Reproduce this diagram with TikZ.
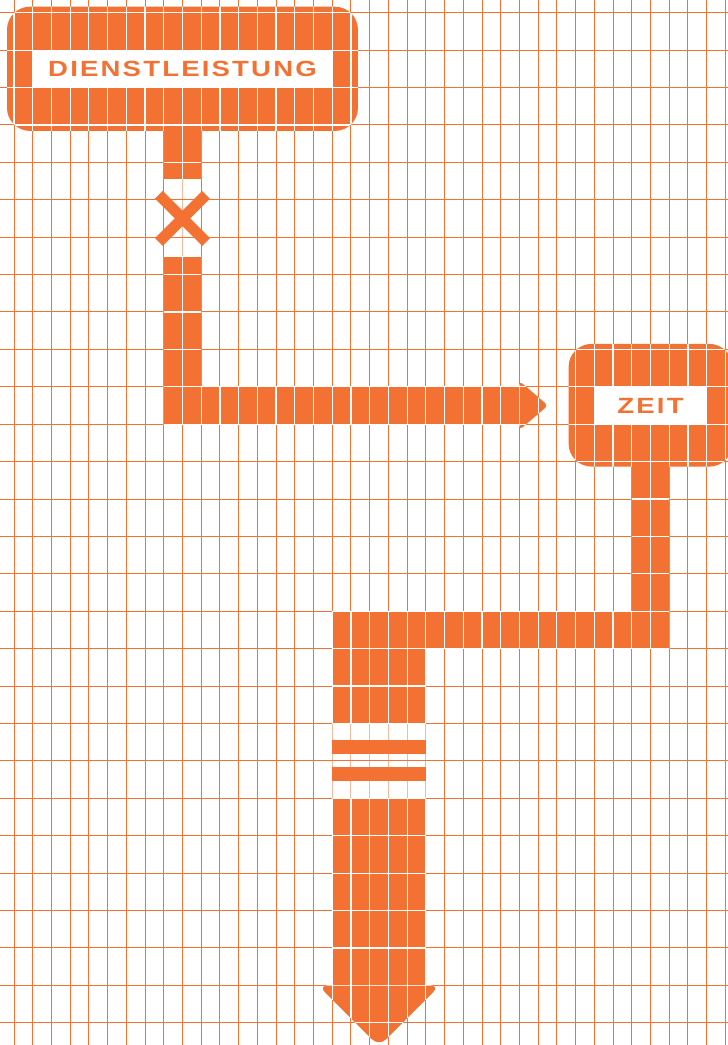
\documentclass[tikz,border=0pt]{standalone}
\usepackage{fontspec}
\newfontfamily\labelfont{Liberation Sans Bold}[FakeStretch=1.25,LetterSpace=10]
\definecolor{brand}{RGB}{243,114,51}
\newcommand\whitegrid{%
  \foreach \k in {0,...,38} \draw[gridwhite] (\k,-1) -- (\k,28);
  \foreach \j in {0,...,27} \draw[gridwhite] (-1,\j) -- (39,\j);}
\newcommand\orangeshape[2][]{%
  \fill[shapefill,#1] #2;
  \begin{scope}\clip[#1] #2; \whitegrid\end{scope}}
\begin{document}
\begin{tikzpicture}[x=18.72pt,y=-37.41pt,
  gridorange/.style={draw=brand,line width=1pt},
  gridwhite/.style={draw=white,line width=1.2pt},
  shapefill/.style={fill=brand},
  gapfade/.style={fill=white,fill opacity=0.5},
  labelbox/.style={fill=white,inner sep=0pt,minimum height=37.41pt,
    font=\labelfont\fontsize{22}{22}\selectfont,text=brand},
  crossarm/.style={draw=brand,line width=11pt},
  eqbar/.style={fill=brand}]
\useasboundingbox (-0.74786,-0.33948) rectangle (38.0876,27.5942);
\fill[white] (-0.74786,-0.33948) rectangle (38.0876,27.5942);
% background grid
\foreach \k in {0,...,38} \draw[gridorange] (\k,-1) -- (\k,28);
\fill[gapfade] (8,4.445) rectangle (10,6.522);
\fill[gapfade] (17,19) rectangle (22,21);
\foreach \j in {0,...,27} \draw[gridorange] (-1,\j) -- (39,\j);
% box DIENSTLEISTUNG
\orangeshape[rounded corners=23pt]{([shift={(-7pt,6pt)}]0,0) rectangle ([shift={(7pt,-6pt)}]18,3)}
% stem and L arrow
\orangeshape{(8,2.9) rectangle (10,4.445)}
\orangeshape{(8,6.522) rectangle (10,11)}
\orangeshape{(8,10) rectangle (27.05,11)}
\orangeshape[rounded corners=4pt]{(27,9.845) -- (28.526,10.5) -- (27,11.155) -- cycle}
% box ZEIT
\orangeshape[rounded corners=23pt]{([shift={(-7pt,5.5pt)}]30,9) rectangle ([shift={(7pt,-5pt)}]38,12)}
\orangeshape{(33,11.9) rectangle (35,17)}
\orangeshape{(17,16) rectangle (35,17)}
\orangeshape{(17,16) rectangle (22,19)}
\orangeshape{(17,21) rectangle (22,26.05)}
\orangeshape[rounded corners=10pt]{(16.241,26) -- (22.759,26) -- (19.5,27.631) -- cycle}
% labels
\node[labelbox,minimum width=299.52pt] (dienst) at (9,1.5) {DIENSTLEISTUNG};
\node[labelbox,minimum width=112.32pt] (zeit) at (34,10.5) {ZEIT};
% cross
\coordinate (xmark) at (9,5.5);
\draw[crossarm] ([shift={(-23.6pt,23.6pt)}]xmark) -- ([shift={(23.6pt,-23.6pt)}]xmark);
\draw[crossarm] ([shift={(-23.6pt,-23.6pt)}]xmark) -- ([shift={(23.6pt,23.6pt)}]xmark);
% equals sign
\fill[eqbar] (17,19.441) rectangle (22,19.824);
\fill[eqbar] (17,20.155) rectangle (22,20.529);
\end{tikzpicture}
\end{document}
